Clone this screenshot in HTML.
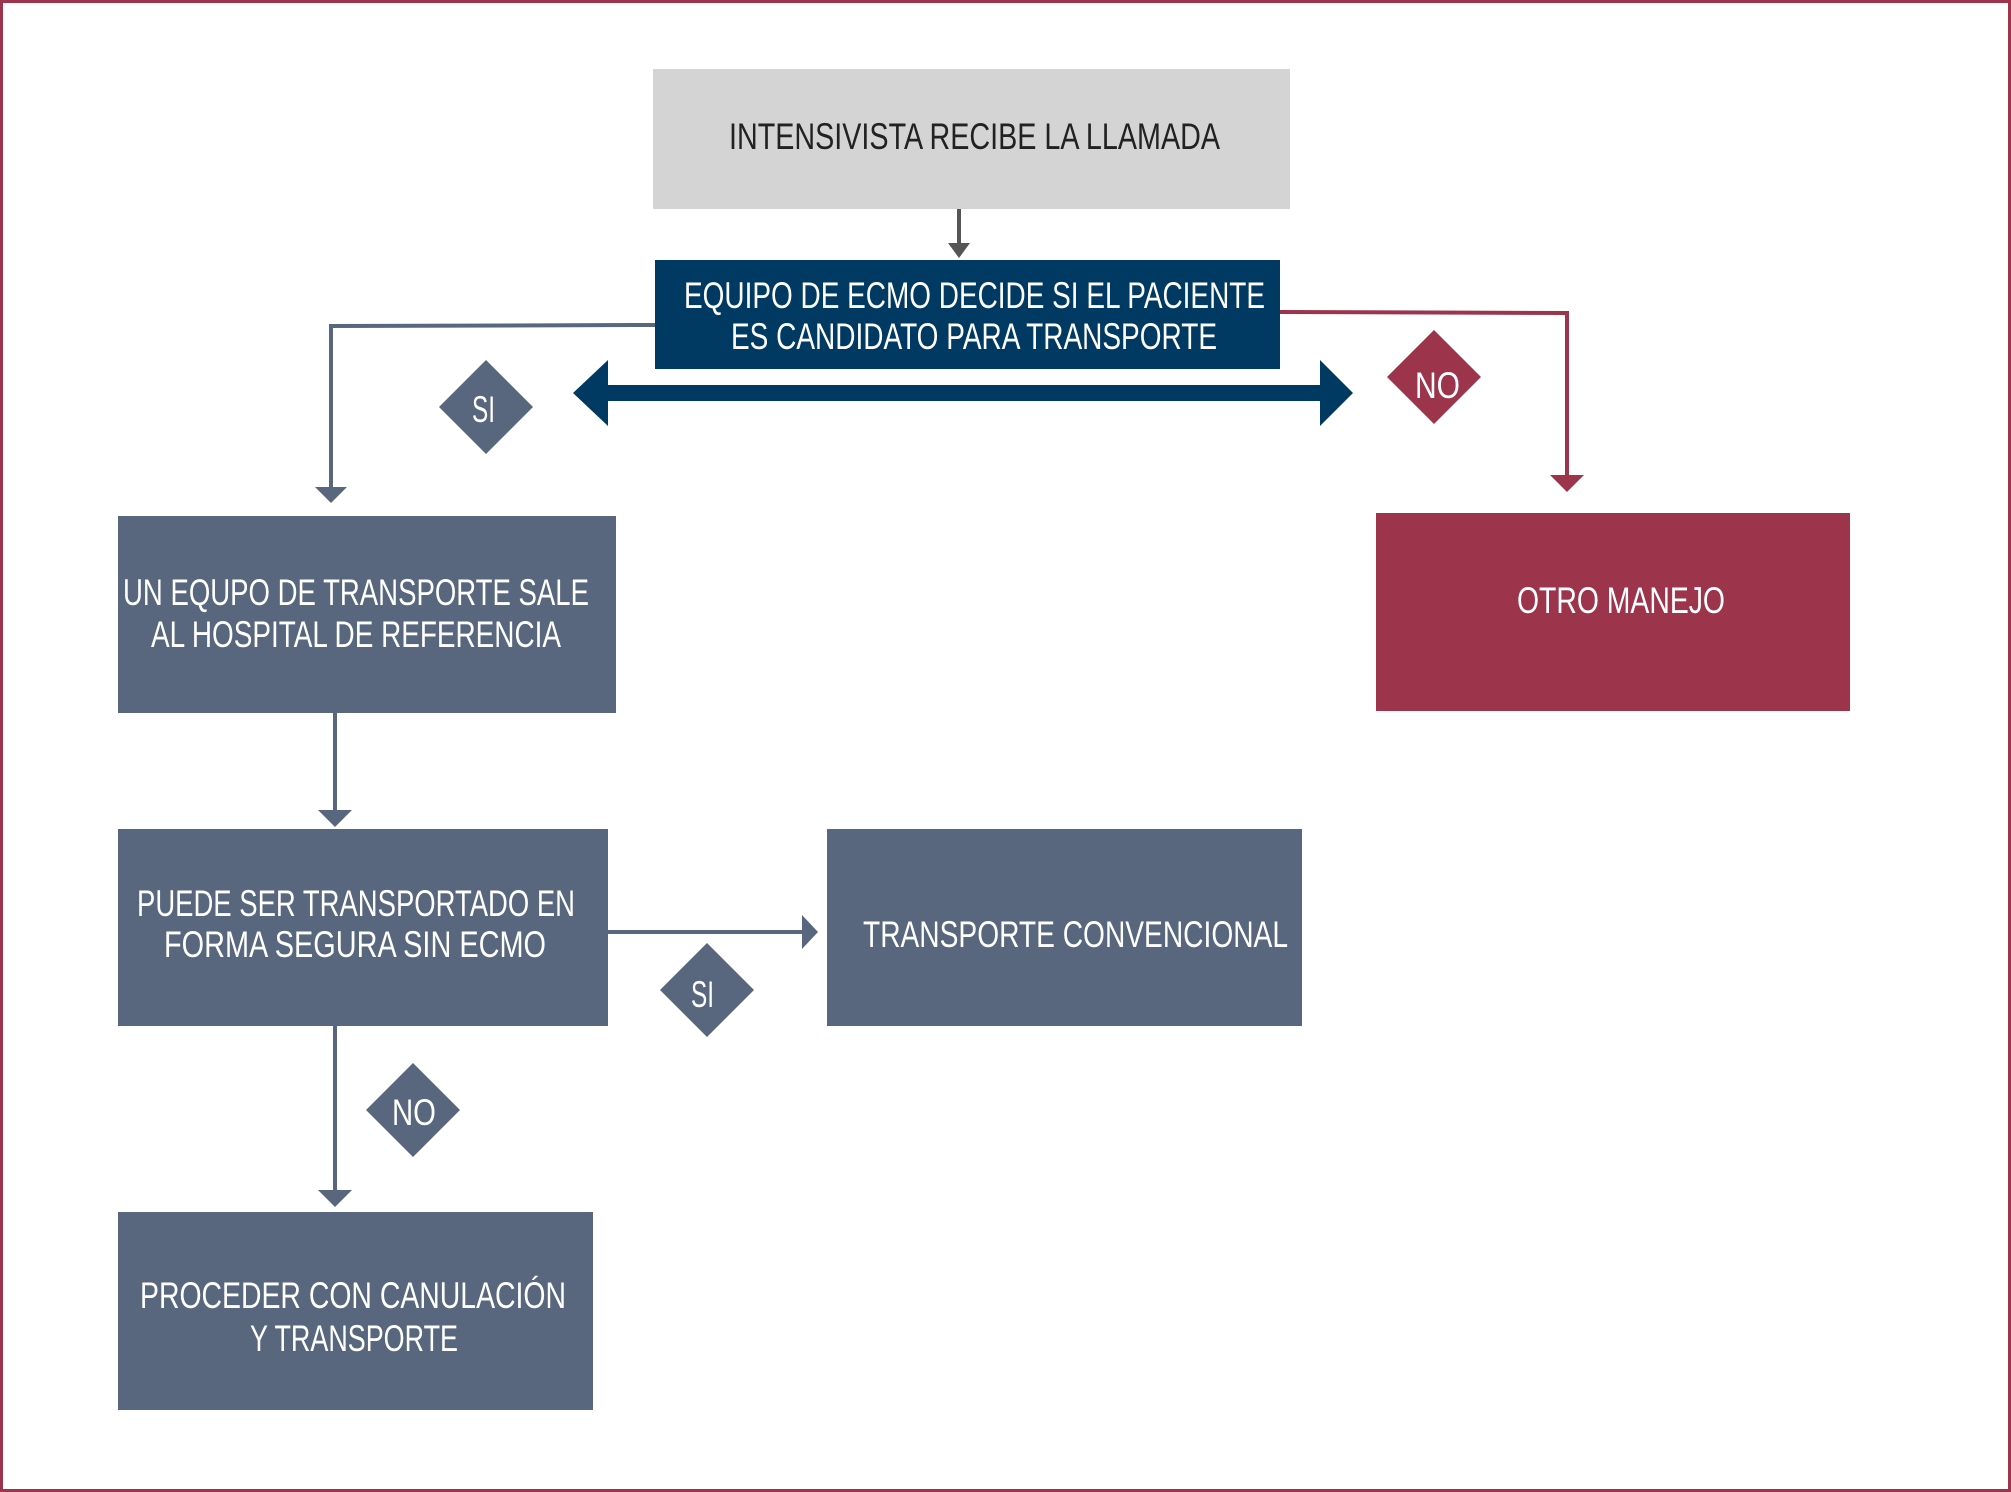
<!DOCTYPE html>
<html><head><meta charset="utf-8"><style>html,body{margin:0;padding:0;background:#fff}svg{display:block}</style></head>
<body>
<svg width="2011" height="1492" viewBox="0 0 2011 1492" xmlns="http://www.w3.org/2000/svg" font-family="Liberation Sans, sans-serif" font-size="37" fill="#fff">
<rect x="1.5" y="1.5" width="2008" height="1489" fill="#fff" stroke="#9c354c" stroke-width="3"/>
<!-- boxes -->
<rect x="653" y="69" width="637" height="140" fill="#d4d4d4"/>
<rect x="655" y="260" width="625" height="109" fill="#003a63"/>
<rect x="118" y="516" width="498" height="197" fill="#58677e"/>
<rect x="1376" y="513" width="474" height="198" fill="#9c354c"/>
<rect x="118" y="829" width="490" height="197" fill="#58677e"/>
<rect x="827" y="829" width="475" height="197" fill="#58677e"/>
<rect x="118" y="1212" width="475" height="198" fill="#58677e"/>
<!-- connectors -->
<line x1="959" y1="209" x2="959" y2="245" stroke="#555" stroke-width="4"/>
<polygon points="948,243 970,243 959,258" fill="#555"/>
<polyline points="655,325 331,326 331,490" fill="none" stroke="#58677e" stroke-width="4"/>
<polygon points="315,487 347,487 331,503" fill="#58677e"/>
<polyline points="1280,312 1567,313 1567,478" fill="none" stroke="#9c354c" stroke-width="4"/>
<polygon points="1550,475 1584,475 1567,492" fill="#9c354c"/>
<line x1="335" y1="713" x2="335" y2="813" stroke="#58677e" stroke-width="4"/>
<polygon points="318,810 352,810 335,827" fill="#58677e"/>
<line x1="608" y1="932" x2="805" y2="932" stroke="#58677e" stroke-width="4"/>
<polygon points="802,915 802,949 818,932" fill="#58677e"/>
<line x1="335" y1="1026" x2="335" y2="1193" stroke="#58677e" stroke-width="4"/>
<polygon points="318,1190 352,1190 335,1207" fill="#58677e"/>
<!-- double arrow -->
<polygon points="573,393 608,360 608,385 1320,385 1320,360 1353,393 1320,426 1320,401 608,401 608,426" fill="#003a63"/>
<!-- diamonds -->
<polygon points="486,360 533,407 486,454 439,407" fill="#58677e"/>
<polygon points="1434,330 1481,377 1434,424 1387,377" fill="#9c354c"/>
<polygon points="707,943 754,990 707,1037 660,990" fill="#58677e"/>
<polygon points="413,1063 460,1110 413,1157 366,1110" fill="#58677e"/>
<!-- text -->
<g lengthAdjust="spacingAndGlyphs">
<text x="729" y="149" textLength="491" lengthAdjust="spacingAndGlyphs" fill="#222">INTENSIVISTA RECIBE LA LLAMADA</text>
<text x="684" y="308" textLength="581" lengthAdjust="spacingAndGlyphs">EQUIPO DE ECMO DECIDE SI EL PACIENTE</text>
<text x="731" y="349" textLength="486" lengthAdjust="spacingAndGlyphs">ES CANDIDATO PARA TRANSPORTE</text>
<text x="123" y="605" textLength="466" lengthAdjust="spacingAndGlyphs">UN EQUPO DE TRANSPORTE SALE</text>
<text x="151" y="647" textLength="410" lengthAdjust="spacingAndGlyphs">AL HOSPITAL DE REFERENCIA</text>
<text x="1517" y="613" textLength="208" lengthAdjust="spacingAndGlyphs">OTRO MANEJO</text>
<text x="137" y="916" textLength="438" lengthAdjust="spacingAndGlyphs">PUEDE SER TRANSPORTADO EN</text>
<text x="164" y="957" textLength="382" lengthAdjust="spacingAndGlyphs">FORMA SEGURA SIN ECMO</text>
<text x="863" y="947" textLength="425" lengthAdjust="spacingAndGlyphs">TRANSPORTE CONVENCIONAL</text>
<text x="140" y="1308" textLength="426" lengthAdjust="spacingAndGlyphs">PROCEDER CON CANULACIÓN</text>
<text x="250" y="1351" textLength="208" lengthAdjust="spacingAndGlyphs">Y TRANSPORTE</text>
<text x="472" y="422" textLength="23" lengthAdjust="spacingAndGlyphs">SI</text>
<text x="1415" y="398" textLength="45" lengthAdjust="spacingAndGlyphs">NO</text>
<text x="691" y="1007" textLength="23" lengthAdjust="spacingAndGlyphs">SI</text>
<text x="392" y="1125" textLength="44" lengthAdjust="spacingAndGlyphs">NO</text>
</g>
</svg>
</body></html>
